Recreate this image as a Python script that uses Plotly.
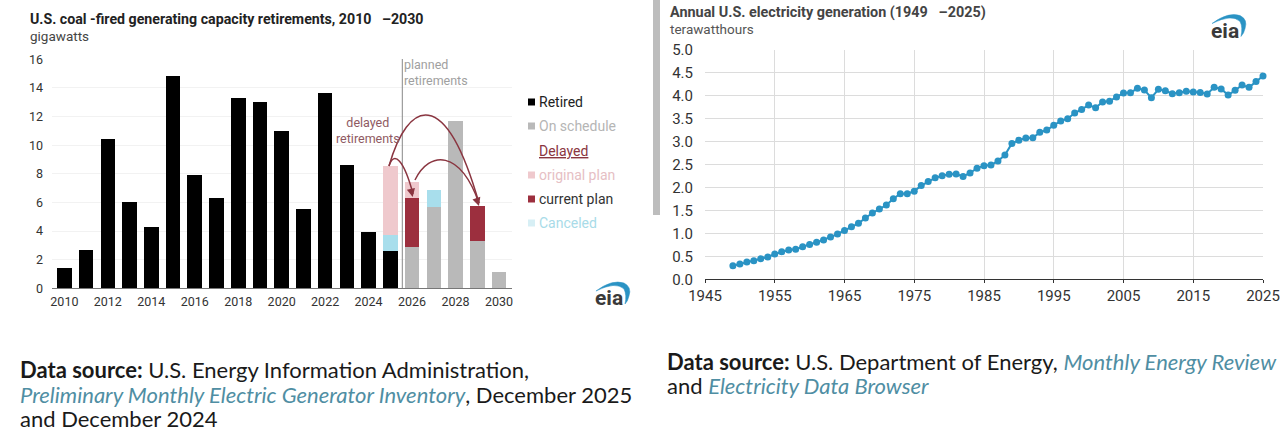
import plotly.graph_objects as go

W = 1280
H = 436

# coal retirements, gigawatts
coal_years = list(range(2010, 2031))
retired = [1.45, 2.7, 10.4, 6.05, 4.3, 14.85, 7.9, 6.3, 13.3, 13.0, 11.0, 5.55, 13.65, 8.6, 3.95, 2.6, 0, 0, 0, 0, 0]
on_schedule = [0] * 16 + [2.87, 5.68, 11.7, 3.3, 1.14]
current_plan = [0] * 16 + [3.43, 0, 0, 2.43, 0]
canceled = [0] * 15 + [1.15, 0, 1.22, 0, 0, 0]
original_plan = [0] * 15 + [4.8, 1.13, 0, 0, 0, 0]
coal_ticks = list(range(2010, 2031, 2))

# electricity generation, thousand terawatthours
gen_years = list(range(1949, 2026))
generation = [
    0.296, 0.334, 0.377, 0.406, 0.45, 0.486, 0.55, 0.602, 0.639, 0.653, 0.711,
    0.76, 0.805, 0.856, 0.92, 0.987, 1.06, 1.147, 1.22, 1.335, 1.444,
    1.53, 1.618, 1.756, 1.865, 1.865, 1.92, 2.04, 2.13, 2.21, 2.256,
    2.29, 2.295, 2.24, 2.315, 2.42, 2.475, 2.49, 2.576, 2.707, 2.96,
    3.03, 3.077, 3.084, 3.2, 3.25, 3.353, 3.447, 3.498, 3.62, 3.70,
    3.795, 3.737, 3.86, 3.88, 3.97, 4.055, 4.064, 4.158, 4.12, 3.955,
    4.136, 4.107, 4.042, 4.064, 4.093, 4.078, 4.07, 4.035, 4.18, 4.144,
    4.013, 4.115, 4.23, 4.18, 4.31, 4.427,
]
gen_xticks = list(range(1945, 2026, 10))
gen_yticks = [0, 0.5, 1, 1.5, 2, 2.5, 3, 3.5, 4, 4.5, 5]

BLACK = "#000000"
GRAY = "#b9b9b9"
PINK = "#efc9cd"
RED = "#9c2f3e"
CYAN = "#a8deec"
ARROW = "#8a3540"
TEAL = "#4f8ea3"
BLUE = "#2a93c4"
FONT = "Roboto"
SRC_FONT = "Lato"


def fx(x):
    return x / W


def fy(y):
    return 1 - y / H


fig = go.Figure()

for name, vals, color in [
    ("Retired", retired, BLACK),
    ("On schedule", on_schedule, GRAY),
    ("current plan", current_plan, RED),
    ("Canceled", canceled, CYAN),
    ("original plan", original_plan, PINK),
]:
    fig.add_trace(go.Bar(x=coal_years, y=vals, name=name, marker=dict(color=color, line_width=0), xaxis="x", yaxis="y"))

fig.add_trace(
    go.Scatter(
        x=gen_years,
        y=generation,
        mode="lines+markers",
        line=dict(color=BLUE, width=2),
        marker=dict(color=BLUE, size=7),
        cliponaxis=False,
        xaxis="x2",
        yaxis="y2",
    )
)

fig.update_layout(
    width=W,
    height=H,
    margin=dict(l=0, r=0, t=0, b=0, autoexpand=False),
    paper_bgcolor="white",
    plot_bgcolor="white",
    barmode="stack",
    bargap=0.33,
    showlegend=False,
    font=dict(family=FONT, size=13, color="#333333"),
    xaxis=dict(
        domain=[fx(52), fx(512)],
        range=[2009.43, 2030.6],
        tickvals=coal_ticks,
        automargin=False,
        showgrid=False,
        zeroline=False,
        showline=True,
        linecolor="#777777",
        linewidth=1,
        ticks="",
        ticklabelstandoff=2,
        tickfont=dict(size=12.5),
    ),
    yaxis=dict(
        domain=[fy(288.3), fy(59.3)],
        range=[0, 16],
        dtick=2,
        automargin=False,
        showgrid=True,
        gridcolor="#f2f2f2",
        zeroline=False,
        ticks="",
        ticklabelstandoff=8,
        tickfont=dict(size=12.5),
    ),
    xaxis2=dict(
        domain=[fx(705), fx(1263)],
        anchor="y2",
        range=[1945, 2025],
        tickvals=gen_xticks,
        automargin=False,
        showgrid=True,
        gridcolor="#dcdcdc",
        zeroline=False,
        showline=True,
        linecolor="#333333",
        linewidth=1,
        ticks="outside",
        ticklen=3,
        tickcolor="#333333",
        tickfont=dict(size=15),
    ),
    yaxis2=dict(
        domain=[fy(279.3), fy(49.7)],
        anchor="x2",
        range=[0, 5],
        tickvals=gen_yticks,
        tickformat=".1f",
        automargin=False,
        showgrid=True,
        gridcolor="#dcdcdc",
        zeroline=False,
        ticks="",
        ticklabelstandoff=11,
        tickfont=dict(size=15),
    ),
)


def note(x, y, text, size=13, color="#333333", family=FONT, anchor="left"):
    # annotations carry about 2px of padding, take it back on left aligned text
    if anchor == "left":
        x -= 2
    fig.add_annotation(
        xref="paper", yref="paper", x=fx(x), y=fy(y), text=text, showarrow=False,
        xanchor=anchor, yanchor="middle", align=anchor,
        font=dict(size=size, color=color, family=family),
    )


def curve(x0, y0, c1x, c1y, c2x, c2y, x1, y1):
    path = "M %.4f,%.4f C %.4f,%.4f %.4f,%.4f %.4f,%.4f" % (
        fx(x0), fy(y0), fx(c1x), fy(c1y), fx(c2x), fy(c2y), fx(x1), fy(y1))
    fig.add_shape(type="path", xref="paper", yref="paper", path=path, line=dict(color=ARROW, width=1.5))


def head(x, y, dx, dy):
    fig.add_annotation(
        xref="paper", yref="paper", x=fx(x), y=fy(y), ax=dx, ay=dy, axref="pixel", ayref="pixel",
        text="", showarrow=True, arrowhead=2, arrowsize=1.1, arrowwidth=1.5, arrowcolor=ARROW,
    )


# titles
note(30, 19, "<b>U.S. coal -fired generating capacity retirements, 2010 \u00a0 \u20132030</b>", 14.2, "#222222")
note(30, 36, "gigawatts", 13.5, "#444444")
note(670, 12, "<b>Annual U.S. electricity generation (1949 \u00a0 \u20132025)</b>", 14.4, "#444444")
note(670, 29, "terawatthours", 13.5, "#555555")

# planned divider and labels
fig.add_shape(type="line", xref="paper", yref="paper", x0=fx(402.3), x1=fx(402.3), y0=fy(288), y1=fy(59),
              line=dict(color="#888888", width=1))
note(404, 72, "planned<br>retirements", 12.5, "#a0a0a0")
note(368, 130.5, "delayed<br>retirements", 12.5, "#8f5a62", anchor="center")

# delay arrows
curve(389, 166, 394, 150, 404, 160, 413, 194)
curve(389, 166, 408, 100, 445, 84, 479, 203)
curve(415, 180, 430, 150, 460, 150, 479, 203)
head(412.7, 197, -2, -9)
head(479, 206, -3, -9)

# legend
legend_rows = [
    (102, "Retired", BLACK, "#222222"),
    (126, "On schedule", GRAY, "#b5b5b5"),
    (151, "<u>Delayed</u>", None, "#8a3540"),
    (175, "original plan", PINK, "#e6c0c4"),
    (199, "current plan", RED, "#333333"),
    (223, "Canceled", "#d7eff5", "#a8dbe8"),
]
for y, label, swatch, color in legend_rows:
    if swatch:
        fig.add_shape(type="rect", xref="paper", yref="paper", x0=fx(528), x1=fx(535), y0=fy(y + 3.5), y1=fy(y - 3.5),
                      fillcolor=swatch, line_width=0)
    note(539, y, label, 14, color)

# eia logos, text plus a filled crescent
crescent = [(1, -7), (17, -19), (29, -15), (37, -11), (34, -2), (33, 3), (30, 6), (32, -3), (29, -9), (21, -17), (1, -7)]
for x, y in [(595, 298), (1211, 30.5)]:
    note(x, y, "<b>eia</b>", 21, "#3a3a3a")
    p = [(fx(x + a), fy(y + b)) for a, b in crescent]
    path = "M %.4f,%.4f" % p[0]
    for i in range(1, len(p), 2):
        path += " Q %.4f,%.4f %.4f,%.4f" % (p[i] + p[i + 1])
    fig.add_shape(type="path", xref="paper", yref="paper", path=path + " Z", fillcolor=BLUE, line=dict(color=BLUE, width=0.5))

# sidebar strip between the two charts
fig.add_shape(type="rect", xref="paper", yref="paper", x0=fx(653), x1=fx(660), y0=fy(215), y1=1,
              fillcolor="#bdbdbd", line_width=0)

# data source notes
note(20, 369, "<b>Data source:</b> U.S. Energy Information Administration,", 22, "#1a1a1a", SRC_FONT)
note(20, 394, "<i><span style='color:%s'>Preliminary Monthly Electric Generator Inventory</span></i>, December 2025" % TEAL, 22, "#1a1a1a", SRC_FONT)
note(20, 418, "and December 2024", 22, "#1a1a1a", SRC_FONT)
note(667, 361, "<b>Data source:</b> U.S. Department of Energy, <i><span style='color:%s'>Monthly Energy Review</span></i>" % TEAL, 22, "#1a1a1a", SRC_FONT)
note(667, 385, "and <i><span style='color:%s'>Electricity Data Browser</span></i>" % TEAL, 22, "#1a1a1a", SRC_FONT)

fig.write_html("out.html", config={"displayModeBar": False}, post_script="document.body.style.margin='0';")
